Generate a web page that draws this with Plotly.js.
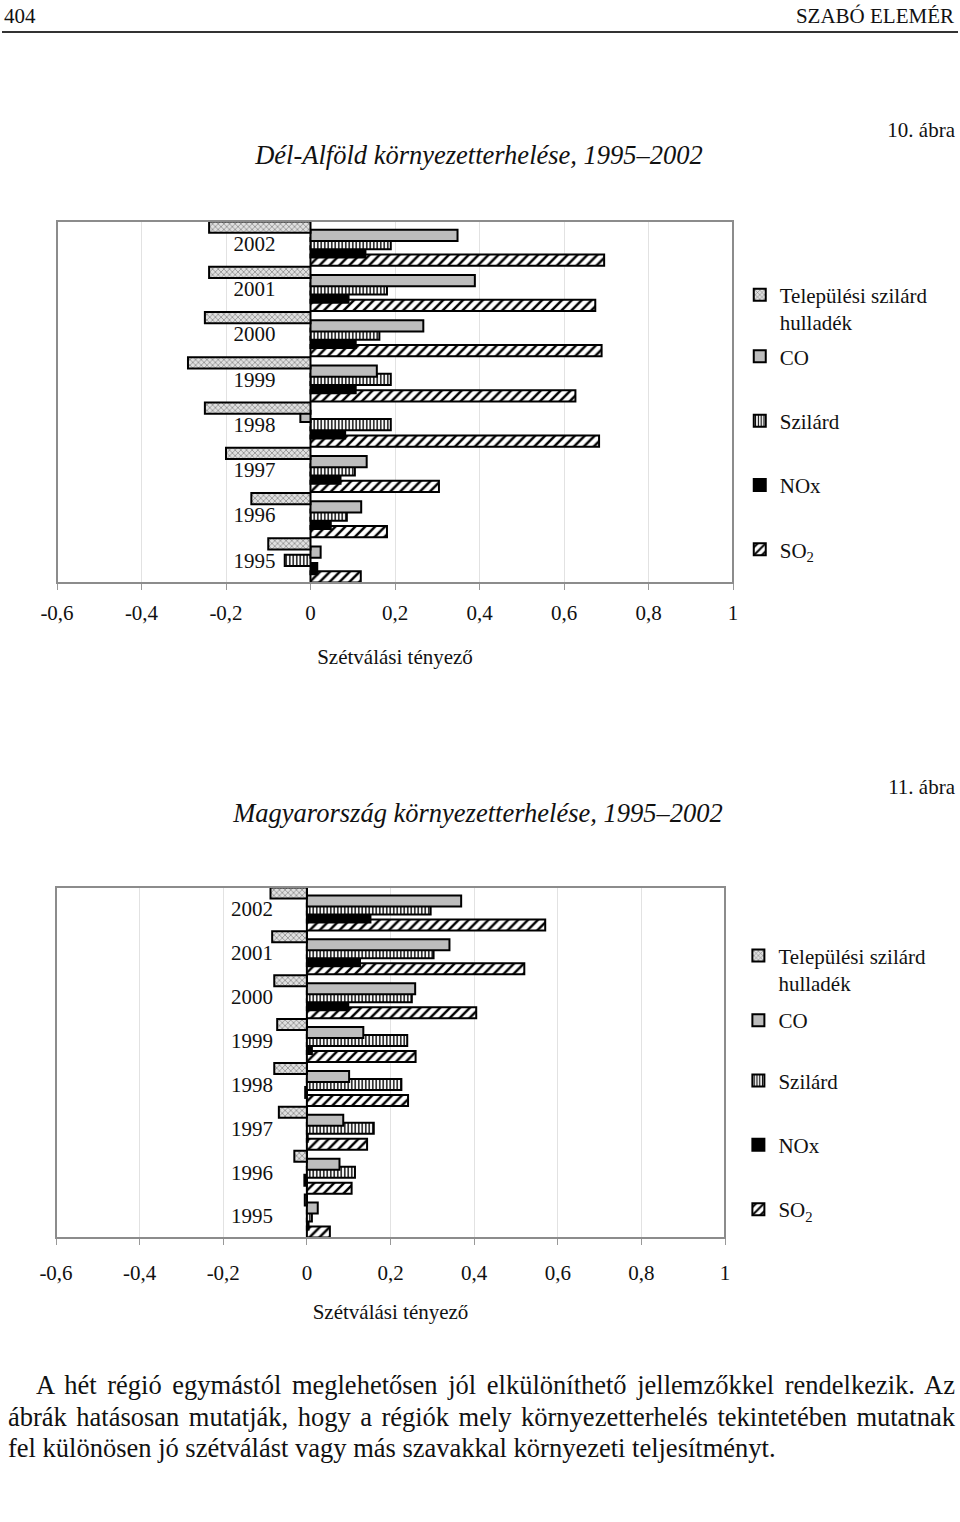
<!DOCTYPE html>
<html>
<head>
<meta charset="utf-8">
<script src="https://cdn.plot.ly/plotly-3.0.1.min.js"></script>
<style>
  html, body { margin: 0; padding: 0; background: #fff; }
  #page { position: relative; width: 960px; height: 1522px; overflow: hidden; font-family: "Liberation Serif", "Times New Roman", serif; color: #111; }
  .abs { position: absolute; white-space: nowrap; }
  .para { position: absolute; left: 8px; width: 947px; font-size: 26.5px; line-height: 30px; text-align: justify; text-align-last: justify; white-space: nowrap; }
</style>
</head>
<body>
<div id="page">
  <div class="abs" style="left:4px; top:4px; font-size:21px;">404</div>
  <div class="abs" style="right:6px; top:4px; font-size:21px;">SZABÓ ELEMÉR</div>
  <div class="abs" style="left:2px; top:31px; width:956px; height:2px; background:#333;"></div>

  <div class="abs" style="right:5px; top:118px; font-size:21px;">10. ábra</div>
  <div class="abs" style="left:0; width:958px; top:140px; text-align:center; font-size:26.5px; font-style:italic;">Dél-Alföld környezetterhelése, 1995–2002</div>

  <div class="abs" style="right:5px; top:775px; font-size:21px;">11. ábra</div>
  <div class="abs" style="left:0; width:956px; top:798px; text-align:center; font-size:26.5px; font-style:italic;">Magyarország környezetterhelése, 1995–2002</div>

  <div id="chart1" class="abs" style="left:0; top:190px; width:960px; height:500px;"></div>
  <div id="chart2" class="abs" style="left:0; top:860px; width:960px; height:480px;"></div>

  <div class="para" style="top:1370px; left:36px; width:919px;">A hét régió egymástól meglehetősen jól elkülöníthető jellemzőkkel rendelkezik. Az</div>
  <div class="para" style="top:1402px;">ábrák hatásosan mutatják, hogy a régiók mely környezetterhelés tekintetében mutatnak</div>
  <div class="para" style="top:1433px; text-align:left; text-align-last:left;">fel különösen jó szétválást vagy más szavakkal környezeti teljesítményt.</div>
</div>

<script>
// ---- data ----
const years = ['2002', '2001', '2000', '1999', '1998', '1997', '1996', '1995'];
const seriesNames = ['Települési szilárd<br>hulladék', 'CO', 'Szilárd', 'NOx', 'SO<sub>2</sub>'];
const xTickVals = [-0.6, -0.4, -0.2, 0, 0.2, 0.4, 0.6, 0.8, 1];
const xTickText = ['-0,6', '-0,4', '-0,2', '0', '0,2', '0,4', '0,6', '0,8', '1'];
const axisTitle = 'Szétválási tényező';

// Dél-Alföld (10. ábra), years 2002 → 1995
const tsh1 = [-0.24, -0.24, -0.25, -0.29, -0.25, -0.20, -0.14, -0.10];
const co1 = [0.348, 0.389, 0.267, 0.157, -0.024, 0.133, 0.12, 0.024];
const szil1 = [0.19, 0.181, 0.163, 0.19, 0.19, 0.105, 0.086, -0.061];
const nox1 = [0.13, 0.09, 0.107, 0.107, 0.082, 0.071, 0.048, 0.016];
const so2_1 = [0.695, 0.674, 0.689, 0.627, 0.683, 0.304, 0.181, 0.119];

// Magyarország (11. ábra), years 2002 → 1995
const tsh2 = [-0.087, -0.083, -0.078, -0.071, -0.078, -0.067, -0.03, -0.005];
const co2 = [0.369, 0.341, 0.259, 0.135, 0.101, 0.087, 0.078, 0.026];
const szil2 = [0.296, 0.303, 0.251, 0.24, 0.226, 0.16, 0.115, 0.012];
const nox2 = [0.152, 0.127, 0.099, 0.012, -0.004, 0.002, -0.006, 0.004];
const so2_2 = [0.57, 0.52, 0.405, 0.26, 0.242, 0.144, 0.107, 0.055];

const FONT = '"Liberation Serif", "Times New Roman", serif';

const styles = [
  { color: '#e0e0e0', pattern: { shape: 'x', fgcolor: '#7a7a7a', bgcolor: '#e0e0e0', size: 4, solidity: 0.3 } },
  { color: '#bdbdbd' },
  { color: '#ffffff', pattern: { shape: '|', fgcolor: '#000', bgcolor: '#fff', size: 3.5, solidity: 0.4 } },
  { color: '#000000' },
  { color: '#ffffff', pattern: { shape: '/', fgcolor: '#000', bgcolor: '#fff', size: 7, solidity: 0.35 } }
];
// first two entries in legend 1, the rest in legend 2 (different spacing)
const legendOf = ['legend', 'legend', 'legend2', 'legend2', 'legend2'];
// overlapping bars inside each year slot (Excel-like overlap)
const BAR_W = 0.25;
const BAR_STEP = (0.98 - BAR_W) / 4;

function makeChart(divId, series, opts) {
  const traces = [];
  // drawn from last to first, so the upper bars lie on top of the lower ones
  for (let i = series.length - 1; i >= 0; i--) {
    const st = styles[i];
    const marker = { color: st.color, line: { color: '#000', width: 2 } };
    if (st.pattern) marker.pattern = st.pattern;
    traces.push({
      type: 'bar', orientation: 'h',
      y: years, x: series[i],
      width: BAR_W, offset: -0.49 + i * BAR_STEP,
      name: seriesNames[i], legendgroup: 'g' + i, legend: legendOf[i], legendrank: i + 1,
      marker: marker
    });
  }
  const legendBase = {
    xanchor: 'left', yanchor: 'top', traceorder: 'grouped', valign: 'top',
    font: { family: FONT, size: 21, color: '#111' },
    bgcolor: 'rgba(0,0,0,0)', itemwidth: 30
  };
  const layout = {
    width: 960, height: opts.height,
    margin: opts.margin,
    paper_bgcolor: 'rgba(0,0,0,0)', plot_bgcolor: '#fff',
    barmode: 'overlay',
    font: { family: FONT, size: 21, color: '#111' },
    showlegend: true,
    legend: Object.assign({}, legendBase, { x: opts.legendX, y: opts.legend1Y, tracegroupgap: opts.gap1 }),
    legend2: Object.assign({}, legendBase, { x: opts.legendX, y: opts.legend2Y, tracegroupgap: 34 }),
    xaxis: {
      range: [-0.6, 1], tickvals: xTickVals, ticktext: xTickText,
      showgrid: true, gridcolor: '#e2e2e2', gridwidth: 1,
      zeroline: true, zerolinecolor: '#000', zerolinewidth: 1.5,
      ticks: 'outside', ticklen: 6, tickcolor: '#999', tickwidth: 1,
      ticklabelstandoff: opts.tickStandoff,
      showline: false, fixedrange: true,
      title: { text: axisTitle, standoff: opts.titleStandoff, font: { family: FONT, size: 21, color: '#111' } }
    },
    yaxis: {
      type: 'category', categoryorder: 'array', categoryarray: years,
      autorange: 'reversed',
      anchor: 'free', position: 0.375, side: 'left',
      showline: false, ticks: '', ticklabelstandoff: opts.yStandoff,
      showgrid: false, zeroline: false, fixedrange: true
    },
    shapes: [{ type: 'rect', xref: 'paper', yref: 'paper', x0: 0, x1: 1, y0: 0, y1: 1,
               line: { color: '#8c8c8c', width: 2 } }]
  };
  Plotly.newPlot(divId, traces, layout, { staticPlot: true, displayModeBar: false });
}

makeChart('chart1', [tsh1, co1, szil1, nox1, so2_1], {
  height: 500, margin: { l: 57, r: 227, t: 31, b: 107 },
  legendX: 1.01, legend1Y: 0.852, legend2Y: 0.504, gap1: 4,
  tickStandoff: 5, titleStandoff: 25, yStandoff: 35
});
makeChart('chart2', [tsh2, co2, szil2, nox2, so2_2], {
  height: 480, margin: { l: 56, r: 235, t: 27, b: 102 },
  legendX: 1.02, legend1Y: 0.862, legend2Y: 0.506, gap1: 7,
  tickStandoff: 10, titleStandoff: 20, yStandoff: 34
});
</script>
</body>
</html>
